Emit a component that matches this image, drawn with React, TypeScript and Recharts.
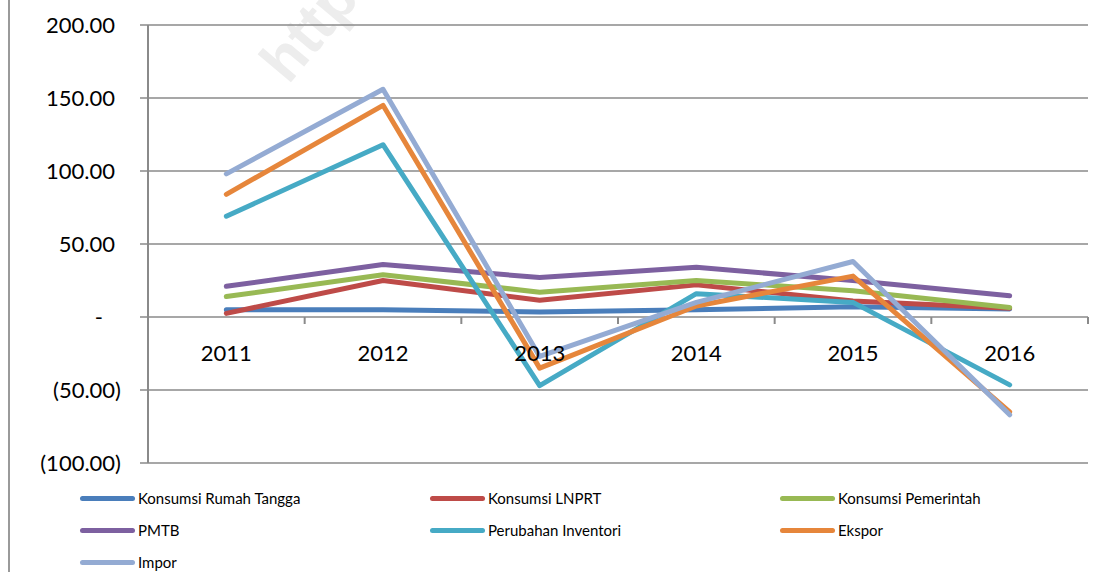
import React from 'react';
import { LineChart, Line, XAxis, YAxis, CartesianGrid, Legend } from 'recharts';

const years = ['2011', '2012', '2013', '2014', '2015', '2016'];
const rumahTangga = [5, 5, 3.5, 5, 7, 5.5];
const lnprt = [2.5, 25, 11.5, 22, 11, 6];
const pemerintah = [14, 29, 17, 25, 18, 6.5];
const pmtb = [21, 36, 27, 34, 25, 14.5];
const inventori = [69, 118, -47, 16, 10, -46.5];
const ekspor = [84, 145, -35, 7.5, 28, -65];
const impor = [98, 156, -27, 10, 38, -67];
const yTicks = [-100, -50, 0, 50, 100, 150, 200];

const series = [
  { key: 'rt', name: 'Konsumsi Rumah Tangga', values: rumahTangga, color: '#4A7EBB' },
  { key: 'lnprt', name: 'Konsumsi LNPRT', values: lnprt, color: '#BE4B48' },
  { key: 'pem', name: 'Konsumsi Pemerintah', values: pemerintah, color: '#98B954' },
  { key: 'pmtb', name: 'PMTB', values: pmtb, color: '#7D60A0' },
  { key: 'inv', name: 'Perubahan Inventori', values: inventori, color: '#46AAC5' },
  { key: 'eks', name: 'Ekspor', values: ekspor, color: '#E6863B' },
  { key: 'imp', name: 'Impor', values: impor, color: '#94ABD3' },
];

const data = years.map((year, i) => {
  const row: any = { year };
  series.forEach((s) => { row[s.key] = s.values[i]; });
  return row;
});

const W = 1102;
const H = 572;
const margin = { top: 25, right: 14, left: 8, bottom: 108 };
const xAxisH = 1;
const yAxisW = 140;
const yMin = -100;
const yMax = 200;
const plotW = W - margin.left - yAxisW - margin.right;
const plotH = H - margin.top - margin.bottom - xAxisH;
const band = plotW / years.length;
// the category axis sits on the zero line, as in the spreadsheet chart
const zeroY = margin.top + (plotH * yMax) / (yMax - yMin);
const axisGray = '#8a8a8a';
const font = 'Lato, "Open Sans", sans-serif';

const fmt = (v: number) => {
  if (v === 0) return '-';
  const s = Math.abs(v).toFixed(2);
  return v < 0 ? `(${s})` : s;
};

const YTick = (props: any) => {
  const { x, y, payload } = props;
  const v = payload.value;
  const tx = v === 0 ? x - 18 : v > 0 ? x - 6 : x;
  return (
    <text x={tx} y={y} dy={8} textAnchor="end" fontSize={22} fontFamily={font} fill="#000">
      {fmt(v)}
    </text>
  );
};

const XTick = (props: any) => {
  const { x, payload, index } = props;
  return (
    <g>
      <line x1={x - band / 2} y1={zeroY} x2={x - band / 2} y2={zeroY + 7} stroke={axisGray} strokeWidth={2} />
      {index === years.length - 1 && (
        <line x1={x + band / 2} y1={zeroY} x2={x + band / 2} y2={zeroY + 7} stroke={axisGray} strokeWidth={2} />
      )}
      <text x={x} y={zeroY + 44} textAnchor="middle" fontSize={22} fontFamily={font} fill="#000">
        {payload.value}
      </text>
    </g>
  );
};

const LegendBox = () => (
  <div
    style={{
      display: 'grid',
      gridTemplateColumns: '350px 350px 350px',
      gridAutoRows: '32px',
      paddingLeft: 80,
      fontFamily: font,
      fontSize: 15,
      color: '#000',
    }}
  >
    {series.map((s) => (
      <div key={s.key} style={{ display: 'flex', alignItems: 'center' }}>
        <span style={{ width: 55, height: 5, borderRadius: 3, background: s.color, marginRight: 3 }} />
        <span>{s.name}</span>
      </div>
    ))}
  </div>
);

export default function App() {
  return (
    <div style={{ position: 'absolute', left: 0, top: 0, width: W, height: H, background: '#fff', overflow: 'hidden' }}>
      <div style={{ position: 'absolute', left: 8, top: 0, width: 2, height: H, background: '#9a9a9a' }} />
      <div
        style={{
          position: 'absolute',
          left: 296,
          top: 32,
          fontFamily: 'Arial, sans-serif',
          fontWeight: 'bold',
          fontSize: 60,
          lineHeight: '60px',
          color: '#ededed',
          transform: 'rotate(-50deg)',
          transformOrigin: 'left bottom',
        }}
      >
        http
      </div>
      <LineChart width={W} height={H} data={data} margin={margin} style={{ position: 'absolute', left: 0, top: 0 }}>
        <CartesianGrid vertical={false} stroke={axisGray} strokeWidth={1.5} />
        <XAxis
          dataKey="year"
          height={xAxisH}
          axisLine={false}
          tickLine={false}
          tickSize={0}
          tickMargin={0}
          interval={0}
          padding={{ left: band / 2, right: band / 2 }}
          tick={<XTick />}
        />
        <YAxis
          width={yAxisW}
          domain={[yMin, yMax]}
          ticks={yTicks}
          interval={0}
          stroke={axisGray}
          tickSize={8}
          tickMargin={19}
          axisLine={{ stroke: axisGray, strokeWidth: 2 }}
          tickLine={{ stroke: axisGray, strokeWidth: 1.5 }}
          tick={<YTick />}
        />
        {series.map((s) => (
          <Line
            key={s.key}
            dataKey={s.key}
            name={s.name}
            stroke={s.color}
            strokeWidth={5}
            strokeLinecap="round"
            strokeLinejoin="round"
            dot={false}
            activeDot={false}
            type="linear"
            isAnimationActive={false}
          />
        ))}
        <Legend
          layout="horizontal"
          verticalAlign="middle"
          align="center"
          wrapperStyle={{ top: 482, left: 0, width: W }}
          content={<LegendBox />}
        />
      </LineChart>
    </div>
  );
}
